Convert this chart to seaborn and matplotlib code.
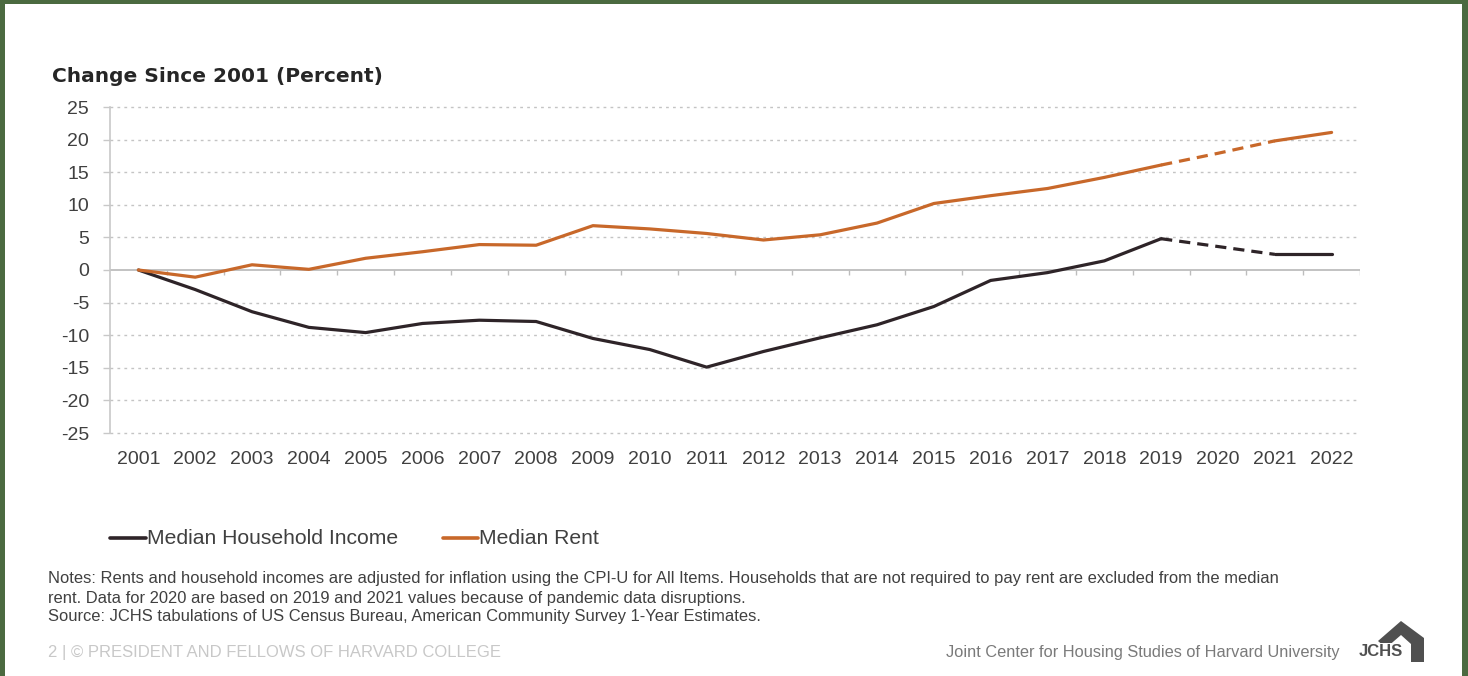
import matplotlib
matplotlib.use("Agg")
import matplotlib.pyplot as plt
from matplotlib.patches import Rectangle, Polygon
from matplotlib.lines import Line2D
import seaborn as sns
import pandas as pd

# data (change since 2001, percent)
years = list(range(2001, 2023))
income = [0, -3.0, -6.4, -8.8, -9.6, -8.2, -7.7, -7.9, -10.5, -12.2, -14.9,
          -12.5, -10.4, -8.4, -5.6, -1.6, -0.4, 1.4, 4.8, 3.6, 2.4, 2.4]
rent = [0, -1.1, 0.8, 0.1, 1.8, 2.8, 3.9, 3.8, 6.8, 6.3, 5.6,
        4.6, 5.4, 7.2, 10.2, 11.4, 12.5, 14.2, 16.1, 17.9, 19.8, 21.1]
series_names = ["Median Household Income", "Median Rent"]
y_ticks = [25, 20, 15, 10, 5, 0, -5, -10, -15, -20, -25]

# 2020 is estimated from 2019 and 2021 -> dashed
segments = [("a", "actual", 0, 18), ("b", "estimated", 18, 20), ("c", "actual", 20, 21)]

rows = []
for name, vals in zip(series_names, [income, rent]):
    for seg, kind, i0, i1 in segments:
        for i in range(i0, i1 + 1):
            rows.append({"year": years[i], "value": vals[i], "series": name,
                         "kind": kind, "seg": name + seg})
df = pd.DataFrame(rows)

colors = {"Median Household Income": "#2e2428", "Median Rent": "#c8682a"}

sns.set_theme(style="white")
plt.rcParams["font.family"] = ["Liberation Sans", "DejaVu Sans"]
plt.rcParams["axes.unicode_minus"] = False

W, H = 1468, 676
fig = plt.figure(figsize=(W / 100, H / 100), dpi=100, facecolor="#4b6a40")
fig.add_artist(Rectangle((5 / W, 0), (1462 - 5) / W, (H - 4) / H,
                         transform=fig.transFigure, facecolor="white",
                         edgecolor="none", zorder=-1))

ax = fig.add_axes([110 / W, (H - 433) / H, (1360 - 110) / W, (433 - 107) / H])
ax.set_facecolor("white")

sns.lineplot(data=df, x="year", y="value", hue="series", style="kind",
             units="seg", estimator=None, palette=colors,
             dashes={"actual": "", "estimated": (3.5, 2.2)},
             linewidth=2.3, legend=False, ax=ax, zorder=3)

ax.set_xlim(years[0] - 0.5, years[-1] + 0.5)
ax.set_ylim(-25, 25)
ax.set_yticks(y_ticks)
ax.set_xticks(years)
ax.set_xlabel("")
ax.set_ylabel("")

for t in y_ticks:
    if t != 0:
        ax.axhline(t, color="#c4c4c4", lw=1.0, ls=(0, (2, 3)), zorder=1, clip_on=False)
ax.axhline(0, color="#bdbdbd", lw=1.3, zorder=2)
# small category boundary ticks on zero line
ax.vlines([y + 0.5 for y in years], -0.8, 0, color="#bdbdbd", lw=1.0, zorder=2)

for s in ["top", "right", "bottom"]:
    ax.spines[s].set_visible(False)
ax.spines["left"].set_color("#c8c8c8")
ax.spines["left"].set_linewidth(1.2)

ax.tick_params(axis="y", length=5, width=1, color="#c8c8c8", pad=10,
               labelsize=14, labelcolor="#404040", left=True)
ax.tick_params(axis="x", length=0, pad=13, labelsize=14, labelcolor="#404040")

fig.text(52 / W, 1 - 76 / H, "Change Since 2001 (Percent)", fontsize=14.5,
         fontweight="bold", family="DejaVu Sans", color="#262626",
         va="center", ha="left")

# legend
ly = 1 - 538 / H
fig.add_artist(Line2D([110 / W, 146 / W], [ly, ly], color=colors[series_names[0]], lw=2.6))
fig.text(147 / W, ly, series_names[0], fontsize=15.2, color="#404040", va="center")
fig.add_artist(Line2D([443 / W, 478 / W], [ly, ly], color=colors[series_names[1]], lw=2.6))
fig.text(479 / W, ly, series_names[1], fontsize=15.2, color="#404040", va="center")

notes = [
    "Notes: Rents and household incomes are adjusted for inflation using the CPI-U for All Items. "
    "Households that are not required to pay rent are excluded from the median",
    "rent. Data for 2020 are based on 2019 and 2021 values because of pandemic data disruptions.",
    "Source: JCHS tabulations of US Census Bureau, American Community Survey 1-Year Estimates.",
]
for i, line in enumerate(notes):
    fig.text(48 / W, 1 - (579 + 19 * i) / H, line, fontsize=11.9, color="#404040",
             va="center", ha="left")

fig.text(48 / W, 1 - 653 / H, "2 | \u00a9 PRESIDENT AND FELLOWS OF HARVARD COLLEGE",
         fontsize=12, color="#c8c8c8", va="center", ha="left")
fig.text(1340 / W, 1 - 653 / H, "Joint Center for Housing Studies of Harvard University",
         fontsize=11.8, color="#7a7a7a", va="center", ha="right")

# JCHS house mark
house = [(1378, 641), (1401, 621), (1424, 638), (1424, 662), (1411, 662),
         (1411, 644), (1401, 635), (1386, 648)]
fig.add_artist(Polygon([(x / W, 1 - y / H) for x, y in house], closed=True,
                       transform=fig.transFigure, facecolor="#505050",
                       edgecolor="none"))
fig.add_artist(Rectangle((1352 / W, 1 - 661 / H), 58 / W, 18 / H,
                         transform=fig.transFigure, facecolor="white", edgecolor="none"))
fig.text(1381 / W, 1 - 652 / H, "JCHS", fontsize=12, fontweight="bold",
         color="#505050", va="center", ha="center")

fig.savefig("out.png", dpi=100, facecolor=fig.get_facecolor())
